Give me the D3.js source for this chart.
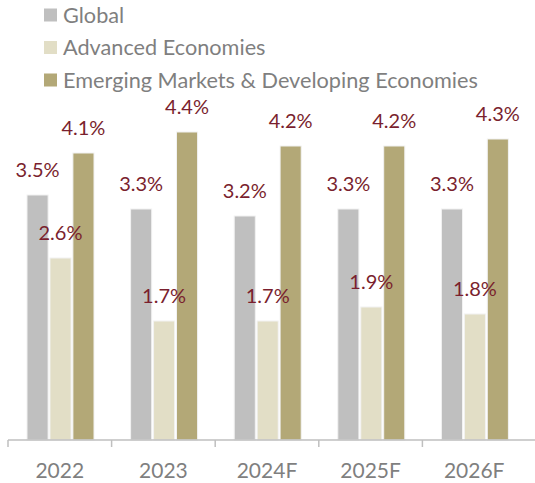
<!DOCTYPE html>
<html>
<head>
<meta charset="utf-8">
<script src="https://cdn.jsdelivr.net/npm/d3@7"></script>
<style>
  html, body { margin: 0; padding: 0; background: #fff; }
  svg { display: block; font-family: "Lato", "Open Sans", sans-serif; }
</style>
</head>
<body>
<svg id="chart" width="535" height="483"></svg>
<script>
// GDP growth by year, percent
const categories = ["2022", "2023", "2024F", "2025F", "2026F"];
const seriesNames = ["Global", "Advanced Economies", "Emerging Markets & Developing Economies"];
const globalValues = [3.5, 3.3, 3.2, 3.3, 3.3];
const advancedValues = [2.6, 1.7, 1.7, 1.9, 1.8];
const emergingValues = [4.1, 4.4, 4.2, 4.2, 4.3];
const seriesColors = ["#bfbfbf", "#e2dec6", "#b3a877"];

const seriesValues = [globalValues, advancedValues, emergingValues];

const svg = d3.select("#chart");

const baseY = 440;
const x = d3.scaleBand().domain(categories).range([8, 526]).padding(0);
const inner = d3.scaleBand().domain(d3.range(3)).range([19, 86]).paddingInner(0.08);
const y = d3.scaleLinear().domain([0, 5]).range([baseY, 90]);

// Legend
const legend = svg.append("g");
seriesNames.forEach((name, i) => {
  const cy = 15 + i * 32.5;
  legend.append("rect")
    .attr("x", 44).attr("y", cy - 6.5)
    .attr("width", 13).attr("height", 13)
    .attr("fill", seriesColors[i]);
  legend.append("text")
    .attr("x", 63).attr("y", cy)
    .attr("dy", "0.36em")
    .attr("fill", "#7f7f7f")
    .style("font-size", "21.7px")
    .text(name);
});

// Bars
const groups = svg.append("g").selectAll("g")
  .data(categories)
  .join("g")
  .attr("transform", d => `translate(${x(d)},0)`);

groups.selectAll("rect")
  .data((d, ci) => seriesValues.map((vals, si) => ({ si, v: vals[ci] })))
  .join("rect")
  .attr("x", d => inner(d.si))
  .attr("y", d => y(d.v))
  .attr("width", inner.bandwidth())
  .attr("height", d => baseY - y(d.v))
  .attr("fill", d => seriesColors[d.si])
  .attr("stroke", "#f2f2f2")
  .attr("stroke-width", 1);

// Value labels
groups.selectAll("text")
  .data((d, ci) => seriesValues.map((vals, si) => ({ si, v: vals[ci] })))
  .join("text")
  .attr("x", d => inner(d.si) + inner.bandwidth() / 2)
  .attr("y", d => y(d.v) - 18)
  .attr("text-anchor", "middle")
  .attr("fill", "#7a1f2e")
  .style("font-size", "20px")
  .text(d => d.v.toFixed(1) + "%");

// Category axis
const axis = svg.append("g");
axis.append("line")
  .attr("x1", 8).attr("x2", 535)
  .attr("y1", baseY).attr("y2", baseY)
  .attr("stroke", "#bfbfbf").attr("stroke-width", 1.5);
axis.selectAll("line.tick")
  .data(categories)
  .join("line")
  .attr("class", "tick")
  .attr("x1", d => x(d)).attr("x2", d => x(d))
  .attr("y1", baseY).attr("y2", baseY + 7)
  .attr("stroke", "#bfbfbf").attr("stroke-width", 1.5);
axis.selectAll("text")
  .data(categories)
  .join("text")
  .attr("x", d => x(d) + x.bandwidth() / 2)
  .attr("y", 478)
  .attr("text-anchor", "middle")
  .attr("fill", "#7f7f7f")
  .style("font-size", "21px")
  .text(d => d);
</script>
</body>
</html>
